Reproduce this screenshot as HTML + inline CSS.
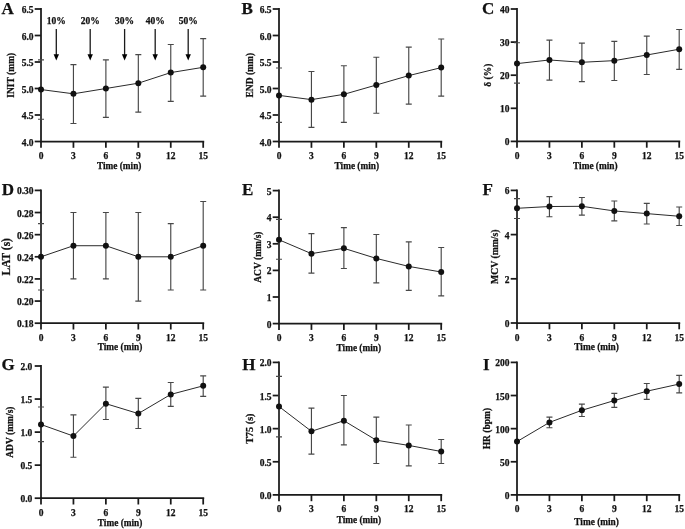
<!DOCTYPE html>
<html><head><meta charset="utf-8"><style>
html,body{margin:0;padding:0;background:#fff;}
body{width:685px;height:529px;overflow:hidden;}
svg{display:block;filter:grayscale(1);}
text{font-family:"Liberation Serif", serif;font-weight:bold;fill:#111;stroke:#111;stroke-width:0.25px;}
.pl{font-size:17px;}
.tk{font-size:9.5px;}
.ax{stroke:#1a1a1a;stroke-width:1.75;fill:none;}
.eb{stroke:#484848;stroke-width:1.15;fill:none;}
.ln{stroke:#2a2a2a;stroke-width:1;fill:none;}
circle{fill:#111;}
</style></head><body>
<svg width="685" height="529" viewBox="0 0 685 529">
<text x="1.5" y="13.9" class="pl">A</text>
<path d="M41 8V141.5H204.2" class="ax" stroke-linejoin="miter"/>
<path d="M34.7 141.5H41" class="ax"/>
<text x="33.5" y="145.5" class="tk" text-anchor="end">4.0</text>
<path d="M34.7 115H41" class="ax"/>
<text x="33.5" y="119" class="tk" text-anchor="end">4.5</text>
<path d="M34.7 88.5H41" class="ax"/>
<text x="33.5" y="92.5" class="tk" text-anchor="end">5.0</text>
<path d="M34.7 62H41" class="ax"/>
<text x="33.5" y="66" class="tk" text-anchor="end">5.5</text>
<path d="M34.7 35.5H41" class="ax"/>
<text x="33.5" y="39.5" class="tk" text-anchor="end">6.0</text>
<path d="M34.7 9H41" class="ax"/>
<text x="33.5" y="13" class="tk" text-anchor="end">6.5</text>
<path d="M41 141.5V147.8" class="ax"/>
<text x="41" y="159" class="tk" text-anchor="middle">0</text>
<path d="M73.44 141.5V147.8" class="ax"/>
<text x="73.44" y="159" class="tk" text-anchor="middle">3</text>
<path d="M105.88 141.5V147.8" class="ax"/>
<text x="105.88" y="159" class="tk" text-anchor="middle">6</text>
<path d="M138.32 141.5V147.8" class="ax"/>
<text x="138.32" y="159" class="tk" text-anchor="middle">9</text>
<path d="M170.76 141.5V147.8" class="ax"/>
<text x="170.76" y="159" class="tk" text-anchor="middle">12</text>
<path d="M203.2 141.5V147.8" class="ax"/>
<text x="203.2" y="159" class="tk" text-anchor="middle">15</text>
<text x="119.2" y="169.1" class="tk" text-anchor="middle" style="font-size:9.3px">Time (min)</text>
<text transform="translate(13.5 75.25) rotate(-90)" class="tk" text-anchor="middle" style="font-size:9.5px">INIT (mm)</text>
<path d="M41 59.88V119.24M38 59.88H44M38 119.24H44" class="eb"/>
<path d="M73.44 64.65V123.48M70.44 64.65H76.44M70.44 123.48H76.44" class="eb"/>
<path d="M105.88 59.88V117.38M102.88 59.88H108.88M102.88 117.38H108.88" class="eb"/>
<path d="M138.32 54.58V112.19M135.32 54.58H141.32M135.32 112.19H141.32" class="eb"/>
<path d="M170.76 44.51V101.38M167.76 44.51H173.76M167.76 101.38H173.76" class="eb"/>
<path d="M203.2 38.68V96.18M200.2 38.68H206.2M200.2 96.18H206.2" class="eb"/>
<polyline points="41,89.56 73.44,93.8 105.88,88.5 138.32,83.2 170.76,72.6 203.2,67.3" class="ln"/>
<circle cx="41" cy="89.56" r="3.0"/>
<circle cx="73.44" cy="93.8" r="3.0"/>
<circle cx="105.88" cy="88.5" r="3.0"/>
<circle cx="138.32" cy="83.2" r="3.0"/>
<circle cx="170.76" cy="72.6" r="3.0"/>
<circle cx="203.2" cy="67.3" r="3.0"/>
<text x="241.5" y="13.9" class="pl">B</text>
<path d="M279 8V141.5H442.2" class="ax" stroke-linejoin="miter"/>
<path d="M272.7 141.5H279" class="ax"/>
<text x="271.5" y="145.5" class="tk" text-anchor="end">4.0</text>
<path d="M272.7 115H279" class="ax"/>
<text x="271.5" y="119" class="tk" text-anchor="end">4.5</text>
<path d="M272.7 88.5H279" class="ax"/>
<text x="271.5" y="92.5" class="tk" text-anchor="end">5.0</text>
<path d="M272.7 62H279" class="ax"/>
<text x="271.5" y="66" class="tk" text-anchor="end">5.5</text>
<path d="M272.7 35.5H279" class="ax"/>
<text x="271.5" y="39.5" class="tk" text-anchor="end">6.0</text>
<path d="M272.7 9H279" class="ax"/>
<text x="271.5" y="13" class="tk" text-anchor="end">6.5</text>
<path d="M279 141.5V147.8" class="ax"/>
<text x="279" y="159" class="tk" text-anchor="middle">0</text>
<path d="M311.44 141.5V147.8" class="ax"/>
<text x="311.44" y="159" class="tk" text-anchor="middle">3</text>
<path d="M343.88 141.5V147.8" class="ax"/>
<text x="343.88" y="159" class="tk" text-anchor="middle">6</text>
<path d="M376.32 141.5V147.8" class="ax"/>
<text x="376.32" y="159" class="tk" text-anchor="middle">9</text>
<path d="M408.76 141.5V147.8" class="ax"/>
<text x="408.76" y="159" class="tk" text-anchor="middle">12</text>
<path d="M441.2 141.5V147.8" class="ax"/>
<text x="441.2" y="159" class="tk" text-anchor="middle">15</text>
<text x="356.8" y="169.1" class="tk" text-anchor="middle" style="font-size:9.3px">Time (min)</text>
<text transform="translate(252.5 75.25) rotate(-90)" class="tk" text-anchor="middle" style="font-size:9.5px">END (mm)</text>
<path d="M279 67.99V122.42M276 67.99H282M276 122.42H282" class="eb"/>
<path d="M311.44 71.54V127.4M308.44 71.54H314.44M308.44 127.4H314.44" class="eb"/>
<path d="M343.88 65.71V122.42M340.88 65.71H346.88M340.88 122.42H346.88" class="eb"/>
<path d="M376.32 57.23V113.2M373.32 57.23H379.32M373.32 113.2H379.32" class="eb"/>
<path d="M408.76 47.16V104.19M405.76 47.16H411.76M405.76 104.19H411.76" class="eb"/>
<path d="M441.2 39V96.18M438.2 39H444.2M438.2 96.18H444.2" class="eb"/>
<polyline points="279,95.39 311.44,99.63 343.88,94.33 376.32,85 408.76,75.62 441.2,67.62" class="ln"/>
<circle cx="279" cy="95.39" r="3.0"/>
<circle cx="311.44" cy="99.63" r="3.0"/>
<circle cx="343.88" cy="94.33" r="3.0"/>
<circle cx="376.32" cy="85" r="3.0"/>
<circle cx="408.76" cy="75.62" r="3.0"/>
<circle cx="441.2" cy="67.62" r="3.0"/>
<text x="482" y="13.9" class="pl">C</text>
<path d="M517 8V141.4H680.2" class="ax" stroke-linejoin="miter"/>
<path d="M510.7 141.4H517" class="ax"/>
<text x="509.5" y="145.4" class="tk" text-anchor="end">0</text>
<path d="M510.7 108.3H517" class="ax"/>
<text x="509.5" y="112.3" class="tk" text-anchor="end">10</text>
<path d="M510.7 75.2H517" class="ax"/>
<text x="509.5" y="79.2" class="tk" text-anchor="end">20</text>
<path d="M510.7 42.1H517" class="ax"/>
<text x="509.5" y="46.1" class="tk" text-anchor="end">30</text>
<path d="M510.7 9H517" class="ax"/>
<text x="509.5" y="13" class="tk" text-anchor="end">40</text>
<path d="M517 141.4V147.7" class="ax"/>
<text x="517" y="158.9" class="tk" text-anchor="middle">0</text>
<path d="M549.44 141.4V147.7" class="ax"/>
<text x="549.44" y="158.9" class="tk" text-anchor="middle">3</text>
<path d="M581.88 141.4V147.7" class="ax"/>
<text x="581.88" y="158.9" class="tk" text-anchor="middle">6</text>
<path d="M614.32 141.4V147.7" class="ax"/>
<text x="614.32" y="158.9" class="tk" text-anchor="middle">9</text>
<path d="M646.76 141.4V147.7" class="ax"/>
<text x="646.76" y="158.9" class="tk" text-anchor="middle">12</text>
<path d="M679.2 141.4V147.7" class="ax"/>
<text x="679.2" y="158.9" class="tk" text-anchor="middle">15</text>
<text x="595.3" y="169" class="tk" text-anchor="middle" style="font-size:9.3px">Time (min)</text>
<text transform="translate(490.5 75.2) rotate(-90)" class="tk" text-anchor="middle" style="font-size:9.5px">δ (%)</text>
<path d="M517 42.76V83.14M514 42.76H520M514 83.14H520" class="eb"/>
<path d="M549.44 40.11V80.16M546.44 40.11H552.44M546.44 80.16H552.44" class="eb"/>
<path d="M581.88 43.09V81.59M578.88 43.09H584.88M578.88 81.59H584.88" class="eb"/>
<path d="M614.32 41.44V80.5M611.32 41.44H617.32M611.32 80.5H617.32" class="eb"/>
<path d="M646.76 36.14V74.54M643.76 36.14H649.76M643.76 74.54H649.76" class="eb"/>
<path d="M679.2 29.52V69.41M676.2 29.52H682.2M676.2 69.41H682.2" class="eb"/>
<polyline points="517,63.61 549.44,59.97 581.88,62.29 614.32,60.64 646.76,55.01 679.2,49.22" class="ln"/>
<circle cx="517" cy="63.61" r="3.0"/>
<circle cx="549.44" cy="59.97" r="3.0"/>
<circle cx="581.88" cy="62.29" r="3.0"/>
<circle cx="614.32" cy="60.64" r="3.0"/>
<circle cx="646.76" cy="55.01" r="3.0"/>
<circle cx="679.2" cy="49.22" r="3.0"/>
<text x="1.8" y="194.8" class="pl">D</text>
<path d="M41 189.4V323.2H204.2" class="ax" stroke-linejoin="miter"/>
<path d="M34.7 323.2H41" class="ax"/>
<text x="33.5" y="327.2" class="tk" text-anchor="end">0.18</text>
<path d="M34.7 301.07H41" class="ax"/>
<text x="33.5" y="305.07" class="tk" text-anchor="end">0.20</text>
<path d="M34.7 278.93H41" class="ax"/>
<text x="33.5" y="282.93" class="tk" text-anchor="end">0.22</text>
<path d="M34.7 256.8H41" class="ax"/>
<text x="33.5" y="260.8" class="tk" text-anchor="end">0.24</text>
<path d="M34.7 234.67H41" class="ax"/>
<text x="33.5" y="238.67" class="tk" text-anchor="end">0.26</text>
<path d="M34.7 212.53H41" class="ax"/>
<text x="33.5" y="216.53" class="tk" text-anchor="end">0.28</text>
<path d="M34.7 190.4H41" class="ax"/>
<text x="33.5" y="194.4" class="tk" text-anchor="end">0.30</text>
<path d="M41 323.2V329.5" class="ax"/>
<text x="41" y="340.7" class="tk" text-anchor="middle">0</text>
<path d="M73.44 323.2V329.5" class="ax"/>
<text x="73.44" y="340.7" class="tk" text-anchor="middle">3</text>
<path d="M105.88 323.2V329.5" class="ax"/>
<text x="105.88" y="340.7" class="tk" text-anchor="middle">6</text>
<path d="M138.32 323.2V329.5" class="ax"/>
<text x="138.32" y="340.7" class="tk" text-anchor="middle">9</text>
<path d="M170.76 323.2V329.5" class="ax"/>
<text x="170.76" y="340.7" class="tk" text-anchor="middle">12</text>
<path d="M203.2 323.2V329.5" class="ax"/>
<text x="203.2" y="340.7" class="tk" text-anchor="middle">15</text>
<text x="120" y="350.4" class="tk" text-anchor="middle" style="font-size:9.3px">Time (min)</text>
<text transform="translate(10.3 256.8) rotate(-90)" class="tk" text-anchor="middle" style="font-size:11.45px">LAT (s)</text>
<path d="M41 223.6V290M38 223.6H44M38 290H44" class="eb"/>
<path d="M73.44 212.53V278.93M70.44 212.53H76.44M70.44 278.93H76.44" class="eb"/>
<path d="M105.88 212.53V278.93M102.88 212.53H108.88M102.88 278.93H108.88" class="eb"/>
<path d="M138.32 212.53V301.07M135.32 212.53H141.32M135.32 301.07H141.32" class="eb"/>
<path d="M170.76 223.6V290M167.76 223.6H173.76M167.76 290H173.76" class="eb"/>
<path d="M203.2 201.47V290M200.2 201.47H206.2M200.2 290H206.2" class="eb"/>
<polyline points="41,256.8 73.44,245.73 105.88,245.73 138.32,256.8 170.76,256.8 203.2,245.73" class="ln"/>
<circle cx="41" cy="256.8" r="3.0"/>
<circle cx="73.44" cy="245.73" r="3.0"/>
<circle cx="105.88" cy="245.73" r="3.0"/>
<circle cx="138.32" cy="256.8" r="3.0"/>
<circle cx="170.76" cy="256.8" r="3.0"/>
<circle cx="203.2" cy="245.73" r="3.0"/>
<text x="242" y="194.8" class="pl">E</text>
<path d="M279 189.6V323.6H442.2" class="ax" stroke-linejoin="miter"/>
<path d="M272.7 323.6H279" class="ax"/>
<text x="271.5" y="327.6" class="tk" text-anchor="end">0</text>
<path d="M272.7 297H279" class="ax"/>
<text x="271.5" y="301" class="tk" text-anchor="end">1</text>
<path d="M272.7 270.4H279" class="ax"/>
<text x="271.5" y="274.4" class="tk" text-anchor="end">2</text>
<path d="M272.7 243.8H279" class="ax"/>
<text x="271.5" y="247.8" class="tk" text-anchor="end">3</text>
<path d="M272.7 217.2H279" class="ax"/>
<text x="271.5" y="221.2" class="tk" text-anchor="end">4</text>
<path d="M272.7 190.6H279" class="ax"/>
<text x="271.5" y="194.6" class="tk" text-anchor="end">5</text>
<path d="M279 323.6V329.9" class="ax"/>
<text x="279" y="341.1" class="tk" text-anchor="middle">0</text>
<path d="M311.44 323.6V329.9" class="ax"/>
<text x="311.44" y="341.1" class="tk" text-anchor="middle">3</text>
<path d="M343.88 323.6V329.9" class="ax"/>
<text x="343.88" y="341.1" class="tk" text-anchor="middle">6</text>
<path d="M376.32 323.6V329.9" class="ax"/>
<text x="376.32" y="341.1" class="tk" text-anchor="middle">9</text>
<path d="M408.76 323.6V329.9" class="ax"/>
<text x="408.76" y="341.1" class="tk" text-anchor="middle">12</text>
<path d="M441.2 323.6V329.9" class="ax"/>
<text x="441.2" y="341.1" class="tk" text-anchor="middle">15</text>
<text x="358.8" y="351" class="tk" text-anchor="middle" style="font-size:9.3px">Time (min)</text>
<text transform="translate(260.5 257.1) rotate(-90)" class="tk" text-anchor="middle" style="font-size:9.5px">ACV (mm/s)</text>
<path d="M279 219.33V259.23M276 219.33H282M276 259.23H282" class="eb"/>
<path d="M311.44 233.69V273.06M308.44 233.69H314.44M308.44 273.06H314.44" class="eb"/>
<path d="M343.88 227.57V268.54M340.88 227.57H346.88M340.88 268.54H346.88" class="eb"/>
<path d="M376.32 234.49V282.9M373.32 234.49H379.32M373.32 282.9H379.32" class="eb"/>
<path d="M408.76 241.94V290.35M405.76 241.94H411.76M405.76 290.35H411.76" class="eb"/>
<path d="M441.2 247.52V295.94M438.2 247.52H444.2M438.2 295.94H444.2" class="eb"/>
<polyline points="279,239.81 311.44,253.64 343.88,248.32 376.32,258.43 408.76,266.41 441.2,272" class="ln"/>
<circle cx="279" cy="239.81" r="3.0"/>
<circle cx="311.44" cy="253.64" r="3.0"/>
<circle cx="343.88" cy="248.32" r="3.0"/>
<circle cx="376.32" cy="258.43" r="3.0"/>
<circle cx="408.76" cy="266.41" r="3.0"/>
<circle cx="441.2" cy="272" r="3.0"/>
<text x="482.5" y="194.8" class="pl">F</text>
<path d="M517 189.4V323H680.2" class="ax" stroke-linejoin="miter"/>
<path d="M510.7 323H517" class="ax"/>
<text x="509.5" y="327" class="tk" text-anchor="end">0</text>
<path d="M510.7 278.8H517" class="ax"/>
<text x="509.5" y="282.8" class="tk" text-anchor="end">2</text>
<path d="M510.7 234.6H517" class="ax"/>
<text x="509.5" y="238.6" class="tk" text-anchor="end">4</text>
<path d="M510.7 190.4H517" class="ax"/>
<text x="509.5" y="194.4" class="tk" text-anchor="end">6</text>
<path d="M517 323V329.3" class="ax"/>
<text x="517" y="340.5" class="tk" text-anchor="middle">0</text>
<path d="M549.44 323V329.3" class="ax"/>
<text x="549.44" y="340.5" class="tk" text-anchor="middle">3</text>
<path d="M581.88 323V329.3" class="ax"/>
<text x="581.88" y="340.5" class="tk" text-anchor="middle">6</text>
<path d="M614.32 323V329.3" class="ax"/>
<text x="614.32" y="340.5" class="tk" text-anchor="middle">9</text>
<path d="M646.76 323V329.3" class="ax"/>
<text x="646.76" y="340.5" class="tk" text-anchor="middle">12</text>
<path d="M679.2 323V329.3" class="ax"/>
<text x="679.2" y="340.5" class="tk" text-anchor="middle">15</text>
<text x="596.6" y="350.2" class="tk" text-anchor="middle" style="font-size:9.3px">Time (min)</text>
<text transform="translate(498.2 256.7) rotate(-90)" class="tk" text-anchor="middle" style="font-size:9.7px">MCV (mm/s)</text>
<path d="M517 198.58V218.47M514 198.58H520M514 218.47H520" class="eb"/>
<path d="M549.44 196.59V216.7M546.44 196.59H552.44M546.44 216.7H552.44" class="eb"/>
<path d="M581.88 197.47V215.15M578.88 197.47H584.88M578.88 215.15H584.88" class="eb"/>
<path d="M614.32 201.01V220.9M611.32 201.01H617.32M611.32 220.9H617.32" class="eb"/>
<path d="M646.76 203.44V223.99M643.76 203.44H649.76M643.76 223.99H649.76" class="eb"/>
<path d="M679.2 206.98V225.54M676.2 206.98H682.2M676.2 225.54H682.2" class="eb"/>
<polyline points="517,208.3 549.44,206.53 581.88,206.31 614.32,210.95 646.76,213.6 679.2,216.26" class="ln"/>
<circle cx="517" cy="208.3" r="3.0"/>
<circle cx="549.44" cy="206.53" r="3.0"/>
<circle cx="581.88" cy="206.31" r="3.0"/>
<circle cx="614.32" cy="210.95" r="3.0"/>
<circle cx="646.76" cy="213.6" r="3.0"/>
<circle cx="679.2" cy="216.26" r="3.0"/>
<text x="1.5" y="369.6" class="pl">G</text>
<path d="M41 365V498.2H204.2" class="ax" stroke-linejoin="miter"/>
<path d="M34.7 498.2H41" class="ax"/>
<text x="32.3" y="502.2" class="tk" text-anchor="end">0.0</text>
<path d="M34.7 465.15H41" class="ax"/>
<text x="32.3" y="469.15" class="tk" text-anchor="end">0.5</text>
<path d="M34.7 432.1H41" class="ax"/>
<text x="32.3" y="436.1" class="tk" text-anchor="end">1.0</text>
<path d="M34.7 399.05H41" class="ax"/>
<text x="32.3" y="403.05" class="tk" text-anchor="end">1.5</text>
<path d="M34.7 366H41" class="ax"/>
<text x="32.3" y="370" class="tk" text-anchor="end">2.0</text>
<path d="M41 498.2V504.5" class="ax"/>
<text x="41" y="515.7" class="tk" text-anchor="middle">0</text>
<path d="M73.44 498.2V504.5" class="ax"/>
<text x="73.44" y="515.7" class="tk" text-anchor="middle">3</text>
<path d="M105.88 498.2V504.5" class="ax"/>
<text x="105.88" y="515.7" class="tk" text-anchor="middle">6</text>
<path d="M138.32 498.2V504.5" class="ax"/>
<text x="138.32" y="515.7" class="tk" text-anchor="middle">9</text>
<path d="M170.76 498.2V504.5" class="ax"/>
<text x="170.76" y="515.7" class="tk" text-anchor="middle">12</text>
<path d="M203.2 498.2V504.5" class="ax"/>
<text x="203.2" y="515.7" class="tk" text-anchor="middle">15</text>
<text x="120.1" y="525.8" class="tk" text-anchor="middle" style="font-size:9.3px">Time (min)</text>
<text transform="translate(13.3 432.1) rotate(-90)" class="tk" text-anchor="middle" style="font-size:9.5px">ADV (mm/s)</text>
<path d="M41 406.98V441.68M38 406.98H44M38 441.68H44" class="eb"/>
<path d="M73.44 414.91V457.22M70.44 414.91H76.44M70.44 457.22H76.44" class="eb"/>
<path d="M105.88 387.15V419.54M102.88 387.15H108.88M102.88 419.54H108.88" class="eb"/>
<path d="M138.32 398.39V428.46M135.32 398.39H141.32M135.32 428.46H141.32" class="eb"/>
<path d="M170.76 382.52V406.32M167.76 382.52H173.76M167.76 406.32H173.76" class="eb"/>
<path d="M203.2 375.91V396.41M200.2 375.91H206.2M200.2 396.41H206.2" class="eb"/>
<polyline points="41,424.5 73.44,436.07 105.88,403.68 138.32,413.59 170.76,394.42 203.2,385.83" class="ln"/>
<circle cx="41" cy="424.5" r="3.0"/>
<circle cx="73.44" cy="436.07" r="3.0"/>
<circle cx="105.88" cy="403.68" r="3.0"/>
<circle cx="138.32" cy="413.59" r="3.0"/>
<circle cx="170.76" cy="394.42" r="3.0"/>
<circle cx="203.2" cy="385.83" r="3.0"/>
<text x="242.3" y="370" class="pl">H</text>
<path d="M279 361.4V494.9H442.2" class="ax" stroke-linejoin="miter"/>
<path d="M272.7 494.9H279" class="ax"/>
<text x="271.5" y="498.9" class="tk" text-anchor="end">0.0</text>
<path d="M272.7 461.77H279" class="ax"/>
<text x="271.5" y="465.77" class="tk" text-anchor="end">0.5</text>
<path d="M272.7 428.65H279" class="ax"/>
<text x="271.5" y="432.65" class="tk" text-anchor="end">1.0</text>
<path d="M272.7 395.52H279" class="ax"/>
<text x="271.5" y="399.52" class="tk" text-anchor="end">1.5</text>
<path d="M272.7 362.4H279" class="ax"/>
<text x="271.5" y="366.4" class="tk" text-anchor="end">2.0</text>
<path d="M279 494.9V501.2" class="ax"/>
<text x="279" y="512.4" class="tk" text-anchor="middle">0</text>
<path d="M311.44 494.9V501.2" class="ax"/>
<text x="311.44" y="512.4" class="tk" text-anchor="middle">3</text>
<path d="M343.88 494.9V501.2" class="ax"/>
<text x="343.88" y="512.4" class="tk" text-anchor="middle">6</text>
<path d="M376.32 494.9V501.2" class="ax"/>
<text x="376.32" y="512.4" class="tk" text-anchor="middle">9</text>
<path d="M408.76 494.9V501.2" class="ax"/>
<text x="408.76" y="512.4" class="tk" text-anchor="middle">12</text>
<path d="M441.2 494.9V501.2" class="ax"/>
<text x="441.2" y="512.4" class="tk" text-anchor="middle">15</text>
<text x="358.9" y="523.1" class="tk" text-anchor="middle" style="font-size:9.3px">Time (min)</text>
<text transform="translate(253.3 428.65) rotate(-90)" class="tk" text-anchor="middle" style="font-size:10.2px">T75 (s)</text>
<path d="M279 376.31V436.87M276 376.31H282M276 436.87H282" class="eb"/>
<path d="M311.44 408.11V454.16M308.44 408.11H314.44M308.44 454.16H314.44" class="eb"/>
<path d="M343.88 395.52V444.88M340.88 395.52H346.88M340.88 444.88H346.88" class="eb"/>
<path d="M376.32 417.06V463.5M373.32 417.06H379.32M373.32 463.5H379.32" class="eb"/>
<path d="M408.76 425.01V465.88M405.76 425.01H411.76M405.76 465.88H411.76" class="eb"/>
<path d="M441.2 439.51V463.5M438.2 439.51H444.2M438.2 463.5H444.2" class="eb"/>
<polyline points="279,406.52 311.44,431.3 343.88,420.7 376.32,440.24 408.76,445.41 441.2,451.51" class="ln"/>
<circle cx="279" cy="406.52" r="3.0"/>
<circle cx="311.44" cy="431.3" r="3.0"/>
<circle cx="343.88" cy="420.7" r="3.0"/>
<circle cx="376.32" cy="440.24" r="3.0"/>
<circle cx="408.76" cy="445.41" r="3.0"/>
<circle cx="441.2" cy="451.51" r="3.0"/>
<text x="483" y="370" class="pl">I</text>
<path d="M517 361.4V494.9H680.2" class="ax" stroke-linejoin="miter"/>
<path d="M510.7 494.9H517" class="ax"/>
<text x="509.5" y="498.9" class="tk" text-anchor="end">0</text>
<path d="M510.7 461.77H517" class="ax"/>
<text x="509.5" y="465.77" class="tk" text-anchor="end">50</text>
<path d="M510.7 428.65H517" class="ax"/>
<text x="509.5" y="432.65" class="tk" text-anchor="end">100</text>
<path d="M510.7 395.52H517" class="ax"/>
<text x="509.5" y="399.52" class="tk" text-anchor="end">150</text>
<path d="M510.7 362.4H517" class="ax"/>
<text x="509.5" y="366.4" class="tk" text-anchor="end">200</text>
<path d="M517 494.9V501.2" class="ax"/>
<text x="517" y="512.4" class="tk" text-anchor="middle">0</text>
<path d="M549.44 494.9V501.2" class="ax"/>
<text x="549.44" y="512.4" class="tk" text-anchor="middle">3</text>
<path d="M581.88 494.9V501.2" class="ax"/>
<text x="581.88" y="512.4" class="tk" text-anchor="middle">6</text>
<path d="M614.32 494.9V501.2" class="ax"/>
<text x="614.32" y="512.4" class="tk" text-anchor="middle">9</text>
<path d="M646.76 494.9V501.2" class="ax"/>
<text x="646.76" y="512.4" class="tk" text-anchor="middle">12</text>
<path d="M679.2 494.9V501.2" class="ax"/>
<text x="679.2" y="512.4" class="tk" text-anchor="middle">15</text>
<text x="596.6" y="525.1" class="tk" text-anchor="middle" style="font-size:9.3px">Time (min)</text>
<text transform="translate(489.5 428.65) rotate(-90)" class="tk" text-anchor="middle" style="font-size:9.5px">HR (bpm)</text>
<path d="M549.44 417.06V427.72M546.44 417.06H552.44M546.44 427.72H552.44" class="eb"/>
<path d="M581.88 404.14V416.46M578.88 404.14H584.88M578.88 416.46H584.88" class="eb"/>
<path d="M614.32 393.4V407.32M611.32 393.4H617.32M611.32 407.32H617.32" class="eb"/>
<path d="M646.76 383.47V399.37M643.76 383.47H649.76M643.76 399.37H649.76" class="eb"/>
<path d="M679.2 375.32V392.81M676.2 375.32H682.2M676.2 392.81H682.2" class="eb"/>
<polyline points="517,441.57 549.44,422.42 581.88,410.3 614.32,400.56 646.76,391.22 679.2,384.06" class="ln"/>
<circle cx="517" cy="441.57" r="3.0"/>
<circle cx="549.44" cy="422.42" r="3.0"/>
<circle cx="581.88" cy="410.3" r="3.0"/>
<circle cx="614.32" cy="400.56" r="3.0"/>
<circle cx="646.76" cy="391.22" r="3.0"/>
<circle cx="679.2" cy="384.06" r="3.0"/>
<text x="56.3" y="24" class="tk" text-anchor="middle">10%</text>
<path d="M56.3 29V55" style="stroke:#1a1a1a;stroke-width:1.3;fill:none"/>
<path d="M53.6 54.2L59 54.2L56.3 60.4Z" fill="#000"/>
<text x="90.2" y="24" class="tk" text-anchor="middle">20%</text>
<path d="M90.2 29V55" style="stroke:#1a1a1a;stroke-width:1.3;fill:none"/>
<path d="M87.5 54.2L92.9 54.2L90.2 60.4Z" fill="#000"/>
<text x="124.6" y="24" class="tk" text-anchor="middle">30%</text>
<path d="M124.6 29V55" style="stroke:#1a1a1a;stroke-width:1.3;fill:none"/>
<path d="M121.9 54.2L127.3 54.2L124.6 60.4Z" fill="#000"/>
<text x="155.2" y="24" class="tk" text-anchor="middle">40%</text>
<path d="M155.2 29V55" style="stroke:#1a1a1a;stroke-width:1.3;fill:none"/>
<path d="M152.5 54.2L157.9 54.2L155.2 60.4Z" fill="#000"/>
<text x="188.2" y="24" class="tk" text-anchor="middle">50%</text>
<path d="M188.2 29V55" style="stroke:#1a1a1a;stroke-width:1.3;fill:none"/>
<path d="M185.5 54.2L190.9 54.2L188.2 60.4Z" fill="#000"/>
</svg>
</body></html>
